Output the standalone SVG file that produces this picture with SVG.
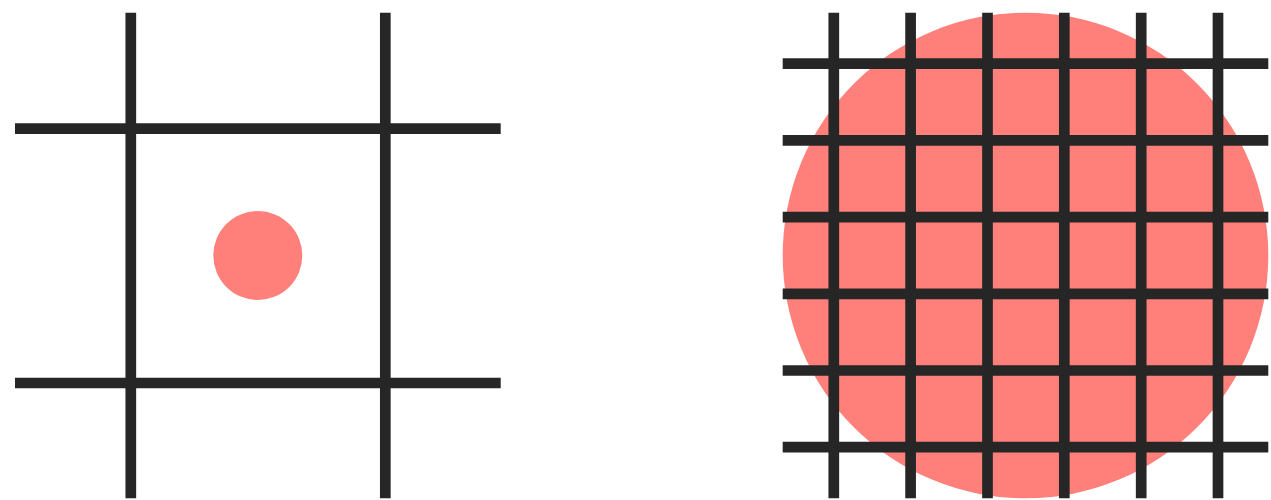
<svg xmlns="http://www.w3.org/2000/svg" width="1271" height="500" viewBox="0 0 1271 500">
<style>
.ln{stroke:#262626;stroke-width:10.7;fill:none}
.dot{fill:#ff7f7a}
</style>
<rect width="1271" height="500" fill="#ffffff"/>
<g id="left">
<circle class="dot" cx="257.8" cy="255.5" r="44.5"/>
<g id="left-grid">
<line class="ln" x1="130.8" y1="12.7" x2="130.8" y2="498.3"/>
<line class="ln" x1="385.3" y1="12.7" x2="385.3" y2="498.3"/>
<line class="ln" x1="15" y1="128.6" x2="500.7" y2="128.6"/>
<line class="ln" x1="15" y1="383" x2="500.7" y2="383"/>
</g>
</g>
<g id="right">
<circle class="dot" cx="1025.5" cy="255.5" r="242.8"/>
<g id="right-grid">
<line class="ln" x1="833.8" y1="12.7" x2="833.8" y2="498.3"/>
<line class="ln" x1="910.6" y1="12.7" x2="910.6" y2="498.3"/>
<line class="ln" x1="987.5" y1="12.7" x2="987.5" y2="498.3"/>
<line class="ln" x1="1064.3" y1="12.7" x2="1064.3" y2="498.3"/>
<line class="ln" x1="1141.2" y1="12.7" x2="1141.2" y2="498.3"/>
<line class="ln" x1="1218" y1="12.7" x2="1218" y2="498.3"/>
<line class="ln" x1="782.7" y1="63.7" x2="1268.3" y2="63.7"/>
<line class="ln" x1="782.7" y1="140.4" x2="1268.3" y2="140.4"/>
<line class="ln" x1="782.7" y1="217.1" x2="1268.3" y2="217.1"/>
<line class="ln" x1="782.7" y1="293.8" x2="1268.3" y2="293.8"/>
<line class="ln" x1="782.7" y1="370.5" x2="1268.3" y2="370.5"/>
<line class="ln" x1="782.7" y1="447.2" x2="1268.3" y2="447.2"/>
</g>
</g>
</svg>
